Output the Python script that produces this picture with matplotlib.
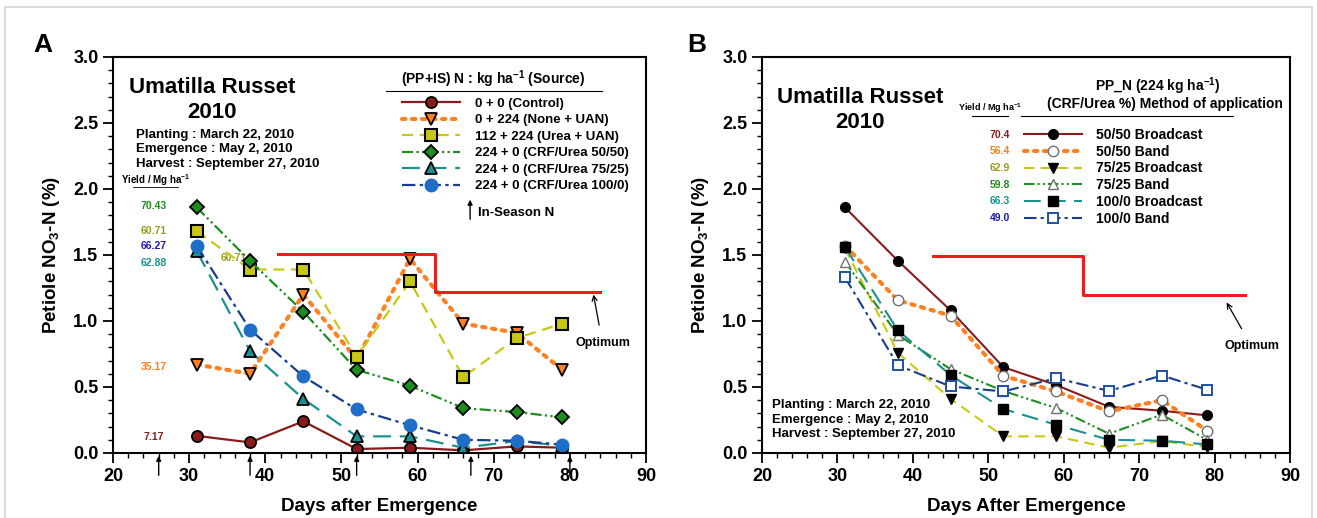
import numpy as np
import matplotlib
matplotlib.use('Agg')
import matplotlib.pyplot as plt
from matplotlib.patches import Rectangle
from matplotlib.ticker import MultipleLocator

plt.rcParams['font.family'] = ['Liberation Sans', 'DejaVu Sans']
plt.rcParams['font.weight'] = 'bold'
plt.rcParams['mathtext.fontset'] = 'custom'
plt.rcParams['mathtext.rm'] = 'Liberation Sans:bold'
plt.rcParams['mathtext.bf'] = 'Liberation Sans:bold'
plt.rcParams['mathtext.default'] = 'bf'

# dias após emergência (amostragens)
days = [31, 38, 45, 52, 59, 66, 73, 79]

# Painel A - fonte de N
a_labels = ['0 + 0 (Control)', '0 + 224 (None + UAN)', '112 + 224 (Urea + UAN)',
            '224 + 0 (CRF/Urea 50/50)', '224 + 0 (CRF/Urea 75/25)', '224 + 0 (CRF/Urea 100/0)']
a_control = [0.13, 0.08, 0.24, 0.03, 0.04, 0.02, 0.05, 0.04]
a_uan = [0.67, 0.60, 1.20, 0.71, 1.47, 0.98, 0.91, 0.63]
a_urea_uan = [1.68, 1.39, 1.39, 0.73, 1.30, 0.575, 0.87, 0.98]
a_crf50 = [1.86, 1.455, 1.07, 0.63, 0.51, 0.34, 0.31, 0.27]
a_crf75 = [1.53, 0.77, 0.41, 0.126, 0.126, 0.04, 0.09, 0.055]
a_crf100 = [1.57, 0.935, 0.58, 0.33, 0.21, 0.10, 0.093, 0.063]
a_yield = ['7.17', '35.17', '60.71', '70.43', '62.88', '66.27']
a_yield_y = [0.12, 0.65, 1.68, 1.87, 1.44, 1.57]
inseason_days = [26, 38, 52, 67, 80]

# Painel B - método de aplicação
b_labels = ['50/50 Broadcast', '50/50 Band', '75/25 Broadcast', '75/25 Band',
            '100/0 Broadcast', '100/0 Band']
b_5050_bc = [1.86, 1.457, 1.08, 0.65, 0.515, 0.35, 0.32, 0.285]
b_5050_band = [1.57, 1.157, 1.04, 0.585, 0.466, 0.315, 0.40, 0.17]
b_7525_bc = [1.55, 0.76, 0.41, 0.126, 0.126, 0.04, 0.09, 0.045]
b_7525_band = [1.45, 0.895, 0.635, 0.47, 0.34, 0.146, 0.29, 0.10]
b_1000_bc = [1.56, 0.93, 0.59, 0.333, 0.214, 0.10, 0.093, 0.065]
b_1000_band = [1.33, 0.665, 0.504, 0.466, 0.567, 0.47, 0.587, 0.48]
b_yield = ['70.4', '56.4', '62.9', '59.8', '66.3', '49.0']

# faixa ótima (degrau)
opt_a_x = [41.7, 62.3, 62.3, 84.0]
opt_a_y = [1.51, 1.51, 1.22, 1.22]
opt_b_x = [42.7, 62.6, 62.6, 84.0]
opt_b_y = [1.49, 1.49, 1.20, 1.20]

red = '#8b1a1a'
orange = '#ff8020'
olive = '#c8c814'
green = '#1e8c1e'
teal = '#1a9090'
navy = '#1a3c8c'
ydark = '#9a9a1a'

sty_solid = '-'
sty_dot = (0, (0.8, 1.6))
sty_dash = (0, (5, 3))
sty_dd = (0, (5, 1.5, 1, 1.5, 1, 1.5))
sty_long = (0, (8, 4))
sty_dashdot = (0, (6, 2, 1.5, 2))

fig = plt.figure(figsize=(13.17, 5.18), dpi=100)
fig.patches.append(Rectangle((5 / 1317, -0.1), 1307 / 1317, 511 / 518 + 0.1,
                             transform=fig.transFigure, fill=False, ec='#d4d4d4', lw=1.2))

axA = fig.add_axes([0.0858, 0.1255, 0.4047, 0.7645])
axB = fig.add_axes([0.5786, 0.1255, 0.4009, 0.7645])


def style_axis(ax, xlabel):
    ax.set_xlim(20, 90)
    ax.set_ylim(0, 3.0)
    ax.xaxis.set_major_locator(MultipleLocator(10))
    ax.xaxis.set_minor_locator(MultipleLocator(2))
    ax.yaxis.set_major_locator(MultipleLocator(0.5))
    ax.yaxis.set_minor_locator(MultipleLocator(0.1))
    ax.yaxis.set_major_formatter(matplotlib.ticker.FormatStrFormatter('%.1f'))
    ax.tick_params(which='major', direction='out', length=7, width=1.3, labelsize=13)
    ax.tick_params(which='minor', direction='out', length=3.5, width=1)
    for s in ax.spines.values():
        s.set_linewidth(1.5)
    ax.set_xlabel(xlabel, fontsize=13.5, fontweight='bold', labelpad=10)
    ax.set_ylabel('Petiole NO$_3$-N (%)', fontsize=13.5, fontweight='bold', labelpad=8)


# ---------- Painel A ----------
ax = axA
ax.plot(days, a_control, color=red, ls=sty_solid, lw=1.6, marker='o', ms=8,
        mfc=red, mec='black', mew=1.3, label=a_labels[0])
ax.plot(days, a_uan, color=orange, ls=sty_dot, lw=3, dash_capstyle='round', marker='v', ms=8.5,
        mfc=orange, mec='black', mew=1.3, label=a_labels[1])
ax.plot(days, a_urea_uan, color=olive, ls=sty_dash, lw=1.6, marker='s', ms=8,
        mfc=olive, mec='black', mew=1.5, label=a_labels[2])
ax.plot(days, a_crf50, color=green, ls=sty_dd, lw=1.6, marker='D', ms=7.5,
        mfc=green, mec='black', mew=1.3, label=a_labels[3])
ax.plot(days, a_crf75, color=teal, ls=sty_long, lw=1.6, marker='^', ms=8,
        mfc=teal, mec='black', mew=1.3, label=a_labels[4])
ax.plot(days, a_crf100, color=navy, ls=sty_dashdot, lw=1.6, marker='o', ms=9,
        mfc='#1e6ec8', mec='#1e6ec8', mew=1, label=a_labels[5])
ax.plot(opt_a_x, opt_a_y, color='#ee1c1c', lw=2.2)

leg = ax.legend(loc='upper left', bbox_to_anchor=(0.543, 0.897), frameon=False, borderpad=0,
                borderaxespad=0, handlelength=4.4, handletextpad=1.1, labelspacing=0.32,
                prop={'size': 9.5, 'weight': 'bold'})
ax.text(69.9, 2.83, '(PP+IS) N : kg ha$^{-1}$ (Source)', ha='center', va='center', fontsize=10)
ax.plot([55.9, 84.2], [2.74, 2.74], color='black', lw=0.8)
ax.annotate('', xy=(66.9, 1.94), xytext=(66.9, 1.75),
            arrowprops=dict(arrowstyle='-|>', lw=1, color='black', mutation_scale=7))
ax.text(68.0, 1.82, 'In-Season N', ha='left', va='center', fontsize=9.5)

for d in inseason_days:
    ax.annotate('', xy=(d, 0.0), xytext=(d, -0.19), annotation_clip=False,
                arrowprops=dict(arrowstyle='-|>', lw=1, color='black', mutation_scale=7))

ax.text(33.0, 2.77, 'Umatilla Russet', ha='center', va='center', fontsize=16)
ax.text(33.0, 2.58, '2010', ha='center', va='center', fontsize=16)
ax.text(23.0, 2.41, 'Planting : March 22, 2010', ha='left', va='center', fontsize=9.5)
ax.text(23.0, 2.30, 'Emergence : May 2, 2010', ha='left', va='center', fontsize=9.5)
ax.text(23.0, 2.19, 'Harvest : September 27, 2010', ha='left', va='center', fontsize=9.5)

ax.text(25.6, 2.07, 'Yield / Mg ha$^{-1}$', ha='center', va='center', fontsize=7)
ax.plot([22.6, 28.6], [2.015, 2.015], color='black', lw=0.6)
for txt, yy, c in zip(a_yield, a_yield_y, [red, orange, ydark, green, teal, '#1a1ab0']):
    ax.text(25.3, yy, txt, ha='center', va='center', fontsize=7.5, color=c)
ax.text(35.9, 1.475, '60.71', ha='center', va='center', fontsize=7.5, color=ydark, zorder=1)

ax.annotate('Optimum', xy=(83.1, 1.2), xytext=(84.3, 0.83), ha='center', va='center', fontsize=9,
            arrowprops=dict(arrowstyle='->', lw=0.9, color='black', shrinkA=7, shrinkB=0))
style_axis(ax, 'Days after Emergence')
fig.text(43 / 1317, 1 - 45 / 518, 'A', fontsize=19, ha='center', va='center')

# ---------- Painel B ----------
ax = axB
ax.plot(days, b_5050_bc, color=red, ls=sty_solid, lw=1.5, marker='o', ms=7,
        mfc='black', mec='black', label=b_labels[0])
ax.plot(days, b_5050_band, color=orange, ls=sty_dot, lw=3, dash_capstyle='round', marker='o', ms=7.5,
        mfc='white', mec='#707070', mew=1, label=b_labels[1])
ax.plot(days, b_7525_bc, color=olive, ls=sty_dash, lw=1.5, marker='v', ms=7.5,
        mfc='black', mec='black', label=b_labels[2])
ax.plot(days, b_7525_band, color=green, ls=sty_dd, lw=1.5, marker='^', ms=7.5,
        mfc='white', mec='#707070', mew=1, label=b_labels[3])
ax.plot(days, b_1000_bc, color=teal, ls=sty_long, lw=1.5, marker='s', ms=7,
        mfc='black', mec='black', label=b_labels[4])
ax.plot(days, b_1000_band, color=navy, ls=sty_dashdot, lw=1.5, marker='s', ms=7.5,
        mfc='white', mec='#1f4fa8', mew=1.4, label=b_labels[5])
ax.plot(opt_b_x, opt_b_y, color='#ee1c1c', lw=2.2)

ax.legend(loc='upper left', bbox_to_anchor=(0.496, 0.821), frameon=False, borderpad=0,
          borderaxespad=0, handlelength=4.2, handletextpad=1.0, labelspacing=0.2,
          prop={'size': 10, 'weight': 'bold'})
ax.text(72.5, 2.775, 'PP_N (224 kg ha$^{-1}$)', ha='center', va='center', fontsize=10)
ax.text(73.4, 2.645, '(CRF/Urea %) Method of application', ha='center', va='center', fontsize=10)
ax.plot([54.3, 82.4], [2.55, 2.55], color='black', lw=0.8)
ax.text(50.3, 2.61, 'Yield / Mg ha$^{-1}$', ha='center', va='center', fontsize=6.5)
ax.plot([47.9, 52.6], [2.55, 2.55], color='black', lw=0.8)
for i, (txt, c) in enumerate(zip(b_yield, [red, orange, ydark, green, teal, '#1a1ab0'])):
    ax.text(52.9, 2.41 - 0.126 * i, txt, ha='right', va='center', fontsize=7.5, color=c)

ax.text(33.0, 2.69, 'Umatilla Russet', ha='center', va='center', fontsize=16)
ax.text(33.0, 2.50, '2010', ha='center', va='center', fontsize=16)
ax.text(21.3, 0.366, 'Planting : March 22, 2010', ha='left', va='center', fontsize=9.5)
ax.text(21.3, 0.252, 'Emergence : May 2, 2010', ha='left', va='center', fontsize=9.5)
ax.text(21.3, 0.141, 'Harvest : September 27, 2010', ha='left', va='center', fontsize=9.5)

ax.annotate('Optimum', xy=(81.6, 1.14), xytext=(84.9, 0.81), ha='center', va='center', fontsize=9,
            arrowprops=dict(arrowstyle='->', lw=0.9, color='black', shrinkA=7, shrinkB=0))
style_axis(ax, 'Days After Emergence')
fig.text(697 / 1317, 1 - 45 / 518, 'B', fontsize=19, ha='center', va='center')

fig.savefig('out.png', dpi=100)
